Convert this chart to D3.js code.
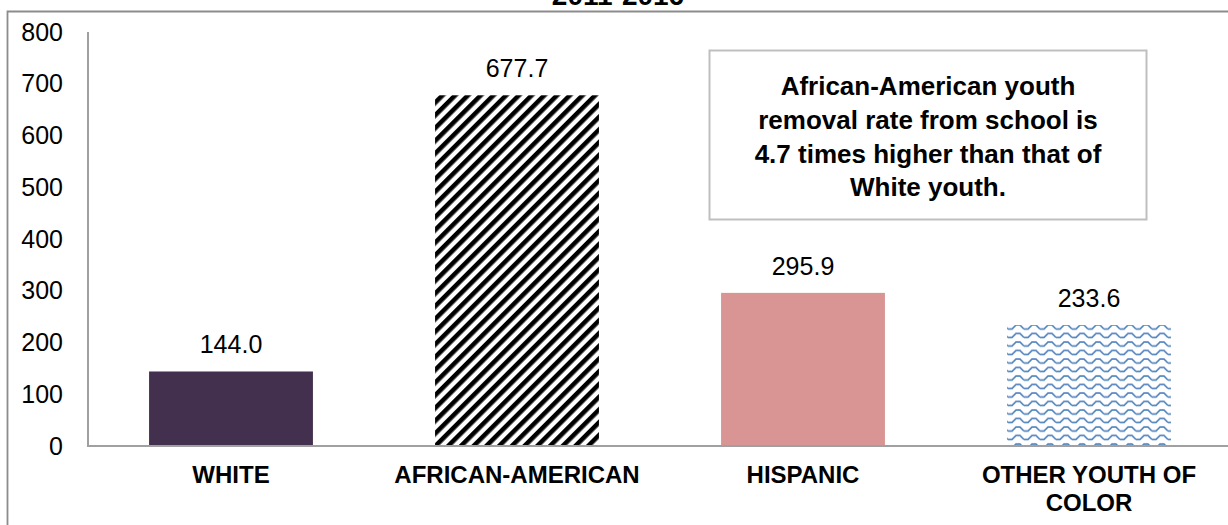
<!DOCTYPE html>
<html>
<head>
<meta charset="utf-8">
<script src="https://cdn.jsdelivr.net/npm/d3@7"></script>
<style>
  html, body { margin: 0; padding: 0; background: #ffffff; }
  svg { display: block; font-family: "Liberation Sans", Arial, sans-serif; }
</style>
</head>
<body>
<svg id="chart" width="1228" height="525"></svg>
<script>
// ---- data ----
const categories = ["WHITE", "AFRICAN-AMERICAN", "HISPANIC", "OTHER YOUTH OF COLOR"];
const categoryLines = [["WHITE"], ["AFRICAN-AMERICAN"], ["HISPANIC"], ["OTHER YOUTH OF", "COLOR"]];
const values = [144.0, 677.7, 295.9, 233.6];
const valueLabels = ["144.0", "677.7", "295.9", "233.6"];
const yTicks = [0, 100, 200, 300, 400, 500, 600, 700, 800];
const titleText = "2011-2016";
const noteLines = ["African-American youth", "removal rate from school is", "4.7 times higher than that of", "White youth."];

// ---- layout ----
const svg = d3.select("#chart");
const W = 1228, H = 525;
const plot = { left: 88, right: 1232, top: 32, bottom: 446 };

const x = d3.scaleBand().domain(categories).range([plot.left, plot.right])
  .paddingInner(0.427).paddingOuter(0.2135);
const y = d3.scaleLinear().domain([0, 800]).range([plot.bottom, plot.top]);

// ---- patterns ----
const defs = svg.append("defs");
const stripes = defs.append("pattern").attr("id", "stripes")
  .attr("patternUnits", "userSpaceOnUse").attr("width", 9).attr("height", 9)
  .attr("patternTransform", "rotate(45)");
stripes.append("rect").attr("width", 9).attr("height", 9).attr("fill", "#ffffff");
stripes.append("rect").attr("width", 4.6).attr("height", 9).attr("fill", "#000000");

const wave = defs.append("pattern").attr("id", "wave")
  .attr("patternUnits", "userSpaceOnUse").attr("width", 16).attr("height", 8.5);
wave.append("rect").attr("width", 16).attr("height", 8.5).attr("fill", "#ffffff");
wave.append("path").attr("d", "M0,6 L4,6 L8,2 L12,2 L16,6")
  .attr("fill", "none").attr("stroke", "#4f81bd").attr("stroke-width", 1.6);

const fills = ["#43304f", "url(#stripes)", "#d99594", "url(#wave)"];

// ---- outer frame ----
svg.append("path")
  .attr("d", `M7.5,${H + 5} L7.5,11.5 L${W + 5},11.5`)
  .attr("fill", "none").attr("stroke", "#8c8c8c").attr("stroke-width", 1.8);

// ---- title (clipped at top, as in the reference) ----
svg.append("text").attr("x", 618).attr("y", 5)
  .attr("text-anchor", "middle").attr("font-weight", "bold").attr("font-size", 28)
  .attr("fill", "#000").text(titleText);

// ---- y axis ----
const yAxis = d3.axisLeft(y).tickValues(yTicks).tickSize(0).tickPadding(25)
  .tickFormat(d3.format("d"));
const gy = svg.append("g").attr("transform", `translate(${plot.left},0)`).call(yAxis);
gy.select(".domain").remove();
gy.selectAll("text").attr("font-size", 25).attr("fill", "#000")
  .attr("font-family", "'Liberation Sans', Arial, sans-serif");

// ---- bars ----
svg.append("g").selectAll("rect").data(categories).join("rect")
  .attr("x", d => x(d))
  .attr("y", (d, i) => y(values[i]))
  .attr("width", x.bandwidth())
  .attr("height", (d, i) => y(0) - y(values[i]))
  .attr("fill", (d, i) => fills[i]);

// ---- value labels ----
svg.append("g").selectAll("text").data(categories).join("text")
  .attr("x", d => x(d) + x.bandwidth() / 2)
  .attr("y", (d, i) => y(values[i]) - 18)
  .attr("text-anchor", "middle").attr("font-size", 25).attr("fill", "#000")
  .text((d, i) => valueLabels[i]);

// ---- axis lines ----
svg.append("line").attr("x1", plot.left).attr("x2", plot.left)
  .attr("y1", plot.top).attr("y2", plot.bottom + 1)
  .attr("stroke", "#a0a0a0").attr("stroke-width", 2);
svg.append("line").attr("x1", plot.left).attr("x2", W)
  .attr("y1", plot.bottom).attr("y2", plot.bottom)
  .attr("stroke", "#a0a0a0").attr("stroke-width", 2);

// ---- category labels ----
const cg = svg.append("g").selectAll("text").data(categories).join("text")
  .attr("x", d => x(d) + x.bandwidth() / 2)
  .attr("y", 483)
  .attr("text-anchor", "middle").attr("font-weight", "bold").attr("font-size", 24)
  .attr("fill", "#000");
cg.each(function(d, i) {
  const t = d3.select(this);
  categoryLines[i].forEach((ln, j) => {
    t.append("tspan").attr("x", x(d) + x.bandwidth() / 2).attr("dy", j === 0 ? 0 : 28).text(ln);
  });
});

// ---- annotation box ----
svg.append("rect").attr("x", 709.5).attr("y", 50.5).attr("width", 437).attr("height", 169)
  .attr("fill", "#ffffff").attr("stroke", "#bfbfbf").attr("stroke-width", 2);
svg.append("g").selectAll("text").data(noteLines).join("text")
  .attr("x", 928).attr("y", (d, i) => 95 + i * 33.8)
  .attr("text-anchor", "middle").attr("font-weight", "bold").attr("font-size", 26)
  .attr("fill", "#000").text(d => d);
</script>
</body>
</html>
